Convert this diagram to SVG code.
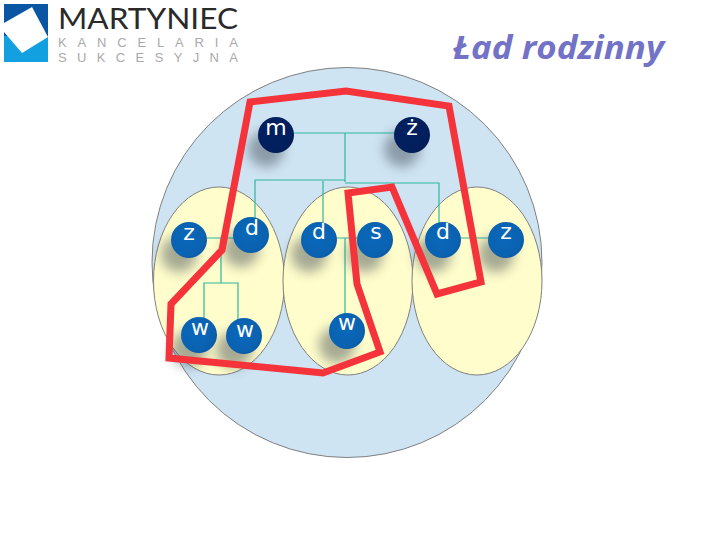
<svg xmlns="http://www.w3.org/2000/svg" width="720" height="540" viewBox="0 0 720 540">
<style>
.node{fill:url(#ball)}
.dark{fill:url(#ballDark)}
.shadow{fill:#3a4450;opacity:.45;filter:url(#blur)}
.lbl{font-family:"DejaVu Sans",Verdana,sans-serif;font-size:22px;fill:#fff;text-anchor:middle}
.conn{fill:none;stroke:#2db8a0;stroke-width:1.2}
.oval{fill:#fffdcb;stroke:#808080;stroke-width:1}
.logo{font-family:"Liberation Sans",Arial,sans-serif;fill:#a9a9a9;font-size:13px}
</style>
<defs>
<filter id="blur" x="-60%" y="-60%" width="220%" height="220%"><feGaussianBlur stdDeviation="6"/></filter>
<radialGradient id="ball" cx=".44" cy=".44" r=".62"><stop offset="0" stop-color="#0a68ba"/><stop offset=".8" stop-color="#0a62b0"/><stop offset=".9" stop-color="#0a5aa6"/><stop offset="1" stop-color="#8cc8e6"/></radialGradient>
<radialGradient id="ballDark" cx=".44" cy=".44" r=".62"><stop offset="0" stop-color="#02205f"/><stop offset=".82" stop-color="#021f5d"/><stop offset=".9" stop-color="#03184e"/><stop offset="1" stop-color="#7f9cc4"/></radialGradient>
</defs>
<rect width="720" height="540" fill="#fff"/>
<g id="logo">
<rect x="4" y="4" width="44" height="58" fill="#12a0e0"/>
<rect x="4" y="4" width="44" height="32" fill="#0a56a4"/>
<polygon points="4,23 32,7 48,37 22,53 4,32" fill="#fff"/>
<text x="58" y="28.500" style="font-family:Lato,'Liberation Sans',sans-serif;font-size:28.500px;fill:#2a2a2a" textLength="180" lengthAdjust="spacingAndGlyphs">MARTYNIEC</text>
<text class="logo" x="58" y="47" textLength="180">KANCELARIA</text>
<text class="logo" x="58" y="62" textLength="180">SUKCESYJNA</text>
</g>
<text id="title" x="453" y="59" textLength="211" lengthAdjust="spacingAndGlyphs" style="font-family:'Open Sans','Liberation Sans',sans-serif;font-weight:700;font-style:italic;font-size:32px;fill:#7272c6">Ład rodzinny</text>
<g id="circles">
<circle cx="347" cy="262.500" r="195" fill="#cfe4f3" stroke="#808080"/>
<ellipse class="oval" cx="219" cy="281" rx="65.500" ry="94"/>
<ellipse class="oval" cx="348" cy="281" rx="65" ry="94"/>
<ellipse class="oval" cx="477" cy="281" rx="65" ry="94"/>
</g>
<g id="connectors">
<path class="conn" d="M276 133H412M345 133V182M255 218V180H345M323 222V181M345 183H439V224"/>
<path class="conn" d="M190 238H250M221 238V283M204 320V283H238V320M318 238H375M345 238V318M442 238H506"/>
</g>
<g id="node-m"><circle class="shadow" cx="266" cy="149" r="18"/><circle class="dark" cx="276" cy="135" r="18"/><text class="lbl" x="276" y="135">m</text></g>
<g id="node-z2"><circle class="shadow" cx="402" cy="149" r="18"/><circle class="dark" cx="412" cy="135" r="18"/><text class="lbl" x="412" y="135">ż</text></g>
<g id="node-z-left"><circle class="shadow" cx="179" cy="254" r="18"/><circle class="node" cx="189" cy="240" r="18"/><text class="lbl" x="189" y="240">z</text></g>
<g id="node-d1"><circle class="shadow" cx="241" cy="249" r="18"/><circle class="node" cx="251" cy="235" r="18"/><text class="lbl" x="252" y="235">d</text></g>
<g id="node-d2"><circle class="shadow" cx="309" cy="254" r="18"/><circle class="node" cx="319" cy="240" r="18"/><text class="lbl" x="319" y="239">d</text></g>
<g id="node-s"><circle class="shadow" cx="365" cy="254" r="18"/><circle class="node" cx="375" cy="240" r="18"/><text class="lbl" x="376" y="239">s</text></g>
<g id="node-d3"><circle class="shadow" cx="433" cy="254" r="18"/><circle class="node" cx="443" cy="240" r="18"/><text class="lbl" x="443" y="239">d</text></g>
<g id="node-z-right"><circle class="shadow" cx="496" cy="254" r="18"/><circle class="node" cx="506" cy="240" r="18"/><text class="lbl" x="506" y="239">z</text></g>
<g id="node-w1"><circle class="shadow" cx="189" cy="349" r="18"/><circle class="node" cx="199" cy="335" r="18"/><text class="lbl" x="200" y="335">w</text></g>
<g id="node-w2"><circle class="shadow" cx="234" cy="350" r="18"/><circle class="node" cx="244" cy="336" r="18"/><text class="lbl" x="245" y="337">w</text></g>
<g id="node-w3"><circle class="shadow" cx="337" cy="345" r="18"/><circle class="node" cx="347" cy="331" r="18"/><text class="lbl" x="347" y="330">w</text></g>
<g id="outline">
<polygon points="250,102 346,91 449,106 481,282 437,294 392,187 348,193 357,284 380,352 323,373 169,358 171,304 222,250" fill="none" stroke="#f4333a" stroke-width="7"/>
</g>
</svg>
